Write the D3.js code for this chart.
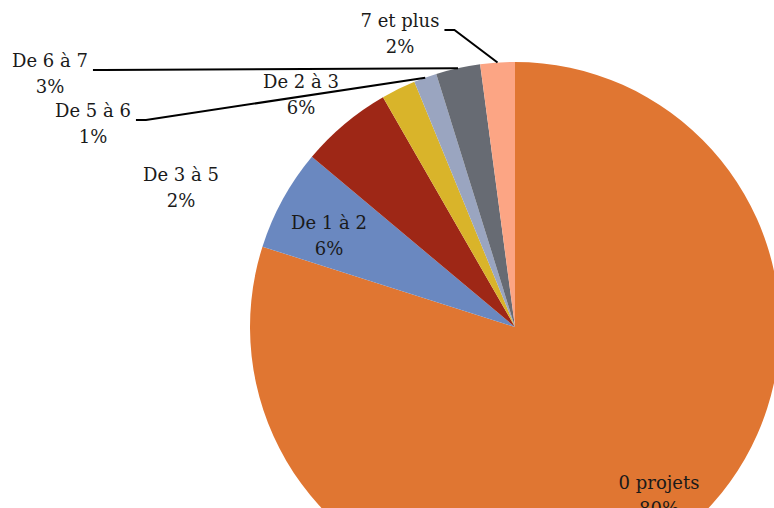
<!DOCTYPE html>
<html>
<head>
<meta charset="utf-8">
<script src="https://cdn.jsdelivr.net/npm/d3@7"></script>
<style>
  body { margin: 0; background: #fff; overflow: hidden; }
</style>
</head>
<body>
<div id="chart"></div>
<script>
// data
var categories = ["0 projets", "De 1 à 2", "De 2 à 3", "De 3 à 5", "De 5 à 6", "De 6 à 7", "7 et plus"];
var values = [79.9, 6.2, 5.6, 2.1, 1.4, 2.7, 2.1];
var percentLabels = ["80%", "6%", "6%", "2%", "1%", "3%", "2%"];
var colors = ["#e07632", "#6a88c0", "#9e2716", "#d9b42a", "#9aa5c0", "#676b73", "#fca584"];

// where each label sits (baseline of first line), and whether it gets a leader line
var labelLayout = [
    {x: 659, y: 489, leader: false},
    {x: 329, y: 229, leader: false},
    {x: 301, y: 88, leader: false},
    {x: 181, y: 181, leader: false},
    {x: 93, y: 117, leader: true},
    {x: 50, y: 67, leader: true},
    {x: 400, y: 27, leader: true}
];

var width = 774, height = 508;
var cx = 515, cy = 327, radius = 265;

//Make an SVG Container
var svg = d3.select("#chart").append("svg")
    .attr("width", width)
    .attr("height", height);

var g = svg.append("g")
    .attr("transform", "translate(" + cx + "," + cy + ")");

var pie = d3.pie().sort(null).value(function(d) { return d; });
var arcs = pie(values);

var arc = d3.arc().innerRadius(0).outerRadius(radius);

g.selectAll("path.slice")
    .data(arcs)
    .enter().append("path")
    .attr("class", "slice")
    .attr("d", arc)
    .attr("fill", function(d, i) { return colors[i]; });

var lines = svg.append("g");

// labels
arcs.forEach(function(d, i) {
    var lay = labelLayout[i];
    var t = svg.append("text")
        .attr("font-family", "DejaVu Serif")
        .attr("font-size", 18)
        .attr("fill", "#1a1a1a")
        .attr("text-anchor", "middle")
        .attr("x", lay.x)
        .attr("y", lay.y);
    var first = t.append("tspan").attr("x", lay.x).attr("dy", 0).text(categories[i]);
    t.append("tspan").attr("x", lay.x).attr("dy", 26).text(percentLabels[i]);

    if (!lay.leader) return;
    // leader line: short horizontal piece after the name, then to the slice edge
    var mid = (d.startAngle + d.endAngle) / 2;
    var ex = cx + radius * Math.sin(mid);
    var ey = cy - radius * Math.cos(mid);
    var sx = lay.x + first.node().getComputedTextLength() / 2 + 5;
    var sy = lay.y + 3;
    lines.append("path")
        .attr("d", "M" + sx + "," + sy + "L" + (sx + 10) + "," + sy + "L" + ex + "," + ey)
        .attr("fill", "none")
        .attr("stroke", "#000")
        .attr("stroke-width", 2);
});
</script>
</body>
</html>
